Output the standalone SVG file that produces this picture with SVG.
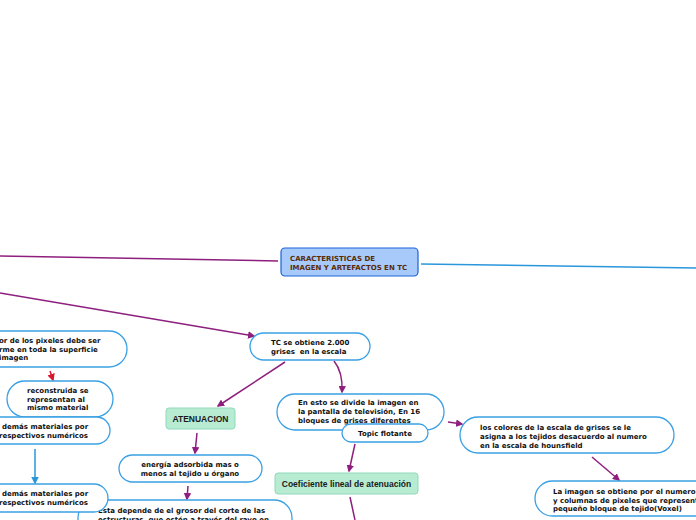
<svg xmlns="http://www.w3.org/2000/svg" width="696" height="520" viewBox="0 0 696 520">
<style>
text{font-family:"DejaVu Sans","Verdana",sans-serif;font-weight:bold;font-size:7px;fill:#111}
.pill{fill:#fff;stroke:#3aa0e4;stroke-width:1.3}
.green{fill:#b8ecd2;stroke:#8fd9bc;stroke-width:1}
.pu{stroke:#8e1f7e;stroke-width:1.5;fill:none}
.bl{stroke:#2a96dc;stroke-width:1.5;fill:none}
.rd{stroke:#d8162e;stroke-width:1.5;fill:none}
.g{font-family:"Liberation Sans",Arial,sans-serif;font-size:8.5px;fill:#1a1a1a}
</style>
<defs>
<marker id="ap" viewBox="0 0 10 10" refX="8" refY="5" markerWidth="5" markerHeight="5" orient="auto"><path d="M0,0 L10,5 L0,10 z" fill="#8e1f7e"/></marker>
<marker id="ab" viewBox="0 0 10 10" refX="8" refY="5" markerWidth="5" markerHeight="5" orient="auto"><path d="M0,0 L10,5 L0,10 z" fill="#2a96dc"/></marker>
<marker id="ar" viewBox="0 0 10 10" refX="8" refY="5" markerWidth="5" markerHeight="5" orient="auto"><path d="M0,0 L10,5 L0,10 z" fill="#d8162e"/></marker>
</defs>
<g id="connectors">
<path class="pu" d="M0,256 L278,261"/>
<path class="bl" d="M421,264 L696,268"/>
<path class="pu" d="M0,293 L254,336" marker-end="url(#ap)"/>
<path class="pu" d="M285,362 L218,406" marker-end="url(#ap)"/>
<path class="pu" d="M334,361 Q343,372 342,392" marker-end="url(#ap)"/>
<path class="pu" d="M448,422 L462,424" marker-end="url(#ap)"/>
<path class="pu" d="M592,457 L619,480" marker-end="url(#ap)"/>
<path class="pu" d="M355,444 L349,471" marker-end="url(#ap)"/>
<path class="pu" d="M350,497 L355,520"/>
<path class="pu" d="M197,433 L195,453" marker-end="url(#ap)"/>
<path class="pu" d="M188,486 L187,499" marker-end="url(#ap)"/>
<path class="rd" d="M50,371 L53,380" marker-end="url(#ar)"/>
<path class="bl" d="M35,449 L35,483" marker-end="url(#ab)"/>
</g>
<g id="central">
<rect x="281" y="248" width="137" height="28" rx="4" fill="#a8cafa" stroke="#1a62d8" stroke-width="1.2"/>
<text x="290" y="261" style="fill:#5a2a05">CARACTERISTICAS DE</text>
<text x="290" y="270" style="fill:#5a2a05">IMAGEN Y ARTEFACTOS EN TC</text>
</g>
<g id="tc">
<rect class="pill" x="250" y="333" width="120" height="27" rx="13.5"/>
<text x="271" y="345">TC se obtiene 2.000</text>
<text x="271" y="354" xml:space="preserve">grises  en la escala</text>
</g>
<g id="atenuacion">
<rect class="green" x="166" y="408" width="69" height="21" rx="3"/>
<text class="g" x="200.5" y="421.5" text-anchor="middle">ATENUACION</text>
</g>
<g id="divide">
<rect class="pill" x="277" y="394" width="167" height="36" rx="18"/>
<text x="298" y="405">En esto se divide la imagen en</text>
<text x="298" y="414">la pantalla de televisión, En 16</text>
<text x="298" y="423">bloques de grises diferentes</text>
</g>
<g id="topic">
<rect class="pill" x="342" y="424" width="86" height="18" rx="9"/>
<text x="385" y="436" text-anchor="middle">Topic flotante</text>
</g>
<g id="colores">
<rect class="pill" x="460" y="417" width="214" height="36" rx="18"/>
<text x="480" y="430">los colores de la escala de grises se le</text>
<text x="480" y="439">asigna a los tejidos desacuerdo al numero</text>
<text x="480" y="448">en la escala de hounsfield</text>
</g>
<g id="laimagen">
<rect class="pill" x="535" y="481" width="180" height="35" rx="17.5"/>
<text x="553" y="494">La imagen se obtiene por el numero</text>
<text x="553" y="503">y columnas de pixeles que represent</text>
<text x="553" y="511">pequeño bloque de tejido(Voxel)</text>
</g>
<g id="coeficiente">
<rect class="green" x="275" y="473" width="143" height="21" rx="3"/>
<text class="g" x="346.5" y="486.5" text-anchor="middle">Coeficiente lineal de atenuación</text>
</g>
<g id="energia">
<rect class="pill" x="119" y="455" width="143" height="27" rx="13.5"/>
<text x="190" y="467" text-anchor="middle">energía adsorbida mas o</text>
<text x="190" y="476" text-anchor="middle">menos al tejido u órgano</text>
</g>
<g id="depende">
<rect class="pill" x="78" y="500" width="214" height="40" rx="18"/>
<text x="98" y="513">Esta depende de el grosor del corte de las</text>
<text x="98" y="522">estructuras, que estén a través del rayo en</text>
</g>
<g id="pixeles">
<rect class="pill" x="-30" y="331" width="157" height="36" rx="18"/>
<text x="-1" y="343">or de los pixeles debe ser</text>
<text x="-1" y="352">rme en toda la superficie</text>
<text x="-1" y="360">imagen</text>
</g>
<g id="reconstruida">
<rect class="pill" x="7" y="381" width="106" height="36" rx="18"/>
<text x="27" y="393">reconstruida se</text>
<text x="27" y="402">representan al</text>
<text x="27" y="410">mismo material</text>
</g>
<g id="materiales1">
<rect class="pill" x="-30" y="417" width="140" height="27" rx="13.5"/>
<text x="2" y="429">demás materiales por</text>
<text x="-1" y="438">respectivos numéricos</text>
</g>
<g id="materiales2">
<rect class="pill" x="-30" y="484" width="138" height="28" rx="14"/>
<text x="2" y="496">demás materiales por</text>
<text x="-1" y="505">respectivos numéricos</text>
</g>
</svg>
